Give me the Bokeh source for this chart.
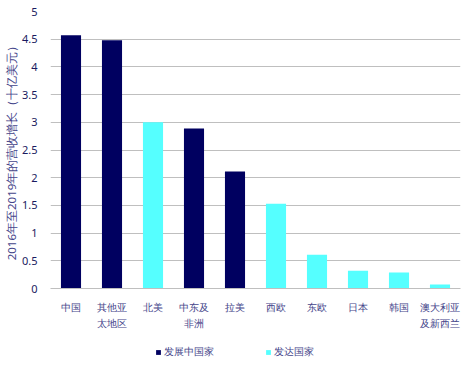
from bokeh.plotting import figure
from bokeh.layouts import column
from bokeh.models import ColumnDataSource, FactorRange, FixedTicker, Legend, LegendItem, Range1d
from bokeh.embed import file_html
from bokeh.resources import INLINE

regions = ["中国", "其他亚\n太地区", "北美", "中东及\n非洲", "拉美", "西欧", "东欧", "日本", "韩国", "澳大利亚\n及新西兰"]
values = [4.57, 4.48, 3.0, 2.89, 2.11, 1.53, 0.61, 0.32, 0.29, 0.07]
groups = ["发展中国家", "发展中国家", "发达国家", "发展中国家", "发展中国家", "发达国家", "发达国家", "发达国家", "发达国家", "发达国家"]
group_names = ["发展中国家", "发达国家"]
group_colors = ["#000060", "#55ffff"]
y_ticks = [0, 0.5, 1, 1.5, 2, 2.5, 3, 3.5, 4, 4.5, 5]
y_title = "2016年至2019年的营收增长（十亿美元）"

FONT = "Noto Sans"
TEXT_COLOR = "#45458a"

sources = []
for g in group_names:
    idx = [i for i, gg in enumerate(groups) if gg == g]
    sources.append(ColumnDataSource(dict(x=[regions[i] for i in idx], top=[values[i] for i in idx])))

# ---- main chart ----
p = figure(width=475, height=338, x_range=FactorRange(factors=regions, range_padding=0),
           y_range=Range1d(0, 5), output_backend="svg", toolbar_location=None,
           min_border_left=50, min_border_right=15, min_border_top=11, min_border_bottom=50)
p.outline_line_color = None

for src, c in zip(sources, group_colors):
    p.vbar(x="x", top="top", width=0.49, bottom=0, source=src, fill_color=c, line_color=None)

p.xgrid.grid_line_color = None
p.ygrid.grid_line_color = "#bfbfbf"
p.ygrid.grid_line_width = 1
p.ygrid.ticker = FixedTicker(ticks=y_ticks)

ya = p.yaxis[0]
ya.ticker = FixedTicker(ticks=y_ticks)
ya.major_label_overrides = {t: (str(int(t)) if float(t).is_integer() else str(t)) for t in y_ticks}
ya.axis_line_color = None
ya.major_tick_line_color = None
ya.minor_tick_line_color = None
ya.major_label_standoff = 7
ya.major_label_text_font = FONT
ya.major_label_text_font_size = "11px"
ya.major_label_text_color = "#1a1a60"
ya.axis_label = y_title
ya.axis_label_standoff = 0
ya.axis_label_text_font = FONT
ya.axis_label_text_font_size = "11.5px"
ya.axis_label_text_font_style = "normal"
ya.axis_label_text_color = TEXT_COLOR

xa = p.xaxis[0]
xa.axis_line_color = "#bfbfbf"
xa.major_tick_line_color = None
xa.minor_tick_line_color = None
xa.major_label_standoff = 5
xa.major_label_text_font = FONT
xa.major_label_text_font_size = "10px"
xa.major_label_text_color = TEXT_COLOR

# ---- legend strip: zero-width swatch renderers of the same series ----
lg = figure(width=475, height=30, x_range=p.x_range, y_range=Range1d(-2, -1),
            output_backend="svg", toolbar_location=None, x_axis_type=None, y_axis_type=None,
            min_border_left=0, min_border_right=0, min_border_top=0, min_border_bottom=0)
lg.outline_line_color = None
lg.xgrid.visible = False
lg.ygrid.visible = False
leg_renderers = []
for src, c in zip(sources, group_colors):
    leg_renderers.append(lg.vbar(x="x", top="top", width=0.0, bottom=0, source=src,
                                 fill_color=c, line_color=None))

legend = Legend(items=[LegendItem(label=g, renderers=[r]) for g, r in zip(group_names, leg_renderers)],
                location=(105, 9), orientation="horizontal",
                glyph_width=6, glyph_height=6, label_standoff=3, spacing=51,
                label_height=12, padding=0, margin=0, border_line_color=None, background_fill_alpha=0,
                label_text_font=FONT, label_text_font_size="10px", label_text_color=TEXT_COLOR)
lg.add_layout(legend, "center")

layout = column(p, lg, spacing=0)
open("out.html", "w").write(file_html(layout, INLINE))
